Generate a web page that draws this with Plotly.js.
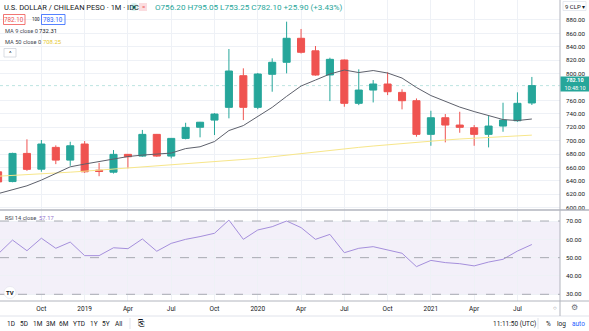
<!DOCTYPE html>
<html>
<head>
<meta charset="utf-8">
<script src="https://cdn.plot.ly/plotly-3.0.1.min.js"></script>
<style>html,body{margin:0;padding:0;background:#fff;}#chart{width:589px;height:331px;}</style>
</head>
<body>
<div id="chart"></div>
<script>
// ---- data (monthly, Jul 2018 .. Aug 2021) ----
const months = ['2018-07','2018-08','2018-09','2018-10','2018-11','2018-12','2019-01','2019-02','2019-03','2019-04','2019-05','2019-06','2019-07','2019-08','2019-09','2019-10','2019-11','2019-12','2020-01','2020-02','2020-03','2020-04','2020-05','2020-06','2020-07','2020-08','2020-09','2020-10','2020-11','2020-12','2021-01','2021-02','2021-03','2021-04','2021-05','2021-06','2021-07','2021-08'];
const openV  = [653.5,639,681,657.5,690,671,695,656,653,679.6,677,709.4,677,703.4,720,730.7,749.7,796.9,749.7,799,816.9,852.7,834,798,820.3,755.7,775.5,784.5,772,759.6,709.4,734.2,723.3,719.3,709.4,721.8,729.7,756.2];
const highV  = [662,682,702,701,693,698.4,699.4,667,686,680,716,710,704,726.7,728,741,836.7,807.9,801,822.8,877.5,866.6,841.2,823.7,821,806.4,790.4,802,776.6,763,744.6,739.7,743.1,723.3,736.7,756.6,772.1,795.05];
const lowV   = [633,638,655,653.6,665,662.5,652,647,651,658.7,676,676,673.6,702,705,708.4,733.3,730.7,747,773,800.4,830,797,759,750.6,753,757,768,746.7,705.9,692.4,697.5,711.8,692.4,690,713.3,728.2,753.25];
const closeV = [638.5,681,657.2,695,671,692.4,653.6,654,679.6,676,709.4,677,703.4,719.8,727.5,739.7,803.9,749.7,799.4,816.9,852.7,831.8,797.9,821.3,755.7,775.5,784.5,773,759.6,709.4,734.2,723.3,719.9,709.4,721.8,730.7,755.7,782.1];
const ma9  = [621,626.3,632.7,641.2,651.6,661,665.1,668.5,672.5,676.3,678.5,680,681.5,688.2,690.9,698.7,715.1,722.5,736.7,749.7,766.1,781.5,790.4,799.4,805.4,801.6,804.6,800.9,793.4,779.3,767.3,758.4,750.1,743.4,737.5,731.5,730,732.31];
const ma50 = [647,648,649.5,650.5,651.8,653,654.5,656,657.5,659.2,661,662.8,664,665.5,666.5,668.5,670.5,672,673.6,676,678.5,680.5,683,685.5,688,690,692,694,696,697.8,699.5,701,702.5,703.8,705,706.2,707.2,708.25];
const rsi  = [52.0,59.6,53.8,60.6,55.1,58.5,51.1,51.1,55.4,54.9,60.2,53.5,57.8,60,61.5,63.3,70.5,60,65.1,66.9,70,66.4,60,62.7,52.7,55.1,56,54.2,52.4,45.1,48.5,47.3,46.7,45.5,47.6,49.1,53.6,57.17];
const tickMonths = ['2018-10','2019-01','2019-04','2019-07','2019-10','2020-01','2020-04','2020-07','2020-10','2021-01','2021-04','2021-07'];
const tickLabels = ['Oct','2019','Apr','Jul','Oct','2020','Apr','Jul','Oct','2021','Apr','Jul'];
const priceTicks = [600,620,640,660,680,700,720,740,760,800,820,840,860,880];
const rsiTicks = [30,40,50,60,70];
const rsiBands = [30,50,70];
const changeText = '+25.90 (+3.43%)';
const countdown = '10:48:10';

// ---- layout helpers ----
const W = 589, H = 331, PW = 560, PH = 301;
const px = x => x / PW;
const py = y => 1 - y / PH;
const xs = months.map((m, i) => i);
const last = xs.length - 1;
const FONT = 'Roboto, "Liberation Sans", sans-serif';
const GREEN = '#26a69a', RED = '#ef5350';

const traces = [
  {type:'candlestick', x: xs, open: openV, high: highV, low: lowV, close: closeV,
   xaxis:'x', yaxis:'y', hoverinfo:'skip', whiskerwidth:0,
   increasing:{line:{color:GREEN, width:1}, fillcolor:GREEN},
   decreasing:{line:{color:RED, width:1}, fillcolor:RED}},
  {type:'scatter', mode:'lines', x: xs, y: ma50, xaxis:'x', yaxis:'y', line:{color:'#f7e68a', width:1}, hoverinfo:'skip'},
  {type:'scatter', mode:'lines', x: xs, y: ma9, xaxis:'x', yaxis:'y', line:{color:'#5d606b', width:1}, hoverinfo:'skip'},
  {type:'scatter', mode:'lines', x: xs, y: rsi, xaxis:'x', yaxis:'y2', line:{color:'#a58fdc', width:1}, hoverinfo:'skip'}
];

function ann(text, x, y, o) {
  return Object.assign({text, x: px(x), y: py(y), xref:'paper', yref:'paper', showarrow:false,
    xanchor:'left', yanchor:'middle', borderpad:0, font:{family:FONT, size:7, color:'#131722'}}, o || {});
}
function rectS(x0, y0, x1, y1, o) {
  return Object.assign({type:'rect', xref:'paper', yref:'paper', x0:px(x0), x1:px(x1), y0:py(y0), y1:py(y1), line:{width:0}}, o || {});
}
function lineS(x0, y0, x1, y1, color, w, dash) {
  return {type:'line', xref:'paper', yref:'paper', x0:px(x0), x1:px(x1), y0:py(y0), y1:py(y1), line:{color, width:w, dash: dash || 'solid'}};
}

const ohlcText = 'O' + openV[last].toFixed(2) + ' H' + highV[last].toFixed(2) + ' L' + lowV[last].toFixed(2) + ' C' + closeV[last].toFixed(2) + ' ' + changeText;

const annotations = [
  ann('U.S. DOLLAR / CHILEAN PESO · 1M · IDC', 3, 7, {font:{family:FONT, size:7.5, color:'#131722'}}),
  ann(ohlcText, 154, 7, {font:{family:FONT, size:8.1, color:GREEN}}),
  ann('=', 143, 6.5, {xanchor:'center', font:{family:FONT, size:6, color:RED}}),
  ann(closeV[last].toFixed(2), 14.2, 19.5, {xanchor:'center', font:{family:FONT, size:6.3, color:RED}}),
  ann('100', 31, 19.5, {font:{family:FONT, size:4.5, color:'#131722'}}),
  ann((closeV[last] + 1).toFixed(2), 53.3, 19.5, {xanchor:'center', font:{family:FONT, size:6.3, color:'#2962ff'}}),
  ann('MA 9 close 0', 3.5, 31.5, {font:{family:FONT, size:5.7, color:'#434651'}}),
  ann(ma9[last].toFixed(2), 38, 31.5, {font:{family:FONT, size:5.9, color:'#131722'}}),
  ann('MA 50 close 0', 3.5, 42, {font:{family:FONT, size:5.7, color:'#434651'}}),
  ann(ma50[last].toFixed(2), 41.5, 42, {font:{family:FONT, size:5.9, color:'#e6c82e'}}),
  ann('^', 10, 53, {xanchor:'center', font:{family:FONT, size:6, color:'#131722'}}),
  ann('RSI 14 close', 3.5, 217.5, {font:{family:FONT, size:5.7, color:'#434651'}}),
  ann(rsi[last].toFixed(2), 37.5, 217.5, {font:{family:FONT, size:5.9, color:'#9575cd'}}),
  ann('<b>TV</b>', 10, 292.5, {xanchor:'center', font:{family:FONT, size:6, color:'#131722'}}),
  ann('9 CLP ▾', 574.5, 6, {xanchor:'center', font:{family:FONT, size:6, color:'#131722'}}),
  ann('<b>' + closeV[last].toFixed(2) + '</b><br>' + countdown, 574.5, 83.5, {xanchor:'center', bgcolor:GREEN, width:28, height:14, font:{family:FONT, size:5.5, color:'#ffffff'}}),
  ann('○', 555, 307.5, {xanchor:'center', font:{family:FONT, size:6, color:'#6a6d78'}}),
  ann('⚙', 574, 307.5, {xanchor:'center', font:{family:FONT, size:8, color:'#6a6d78'}}),
];
const tb = [['1D',6],['5D',19],['1M',32],['3M',45],['6M',58],['YTD',72],['1Y',89],['5Y',101],['All',114]];
tb.forEach(t => annotations.push(ann(t[0], t[1], 323.5, {font:{family:FONT, size:6.5, color:'#131722'}})));
annotations.push(ann('⎘', 137, 323.5, {font:{family:FONT, size:8, color:'#131722'}}));
annotations.push(ann('11:11:50 (UTC)', 492, 323.5, {font:{family:FONT, size:6.5, color:'#131722'}}));
annotations.push(ann('%', 545, 323.5, {font:{family:FONT, size:6.5, color:'#131722'}}));
annotations.push(ann('log', 556, 323.5, {font:{family:FONT, size:6.5, color:'#131722'}}));
annotations.push(ann('auto', 571, 323.5, {font:{family:FONT, size:6.5, color:'#2962ff'}}));

const shapes = [
  {type:'rect', xref:'paper', yref:'y2', x0:0, x1:1, y0:rsiBands[0], y1:rsiBands[2], fillcolor:'rgba(126,87,194,0.09)', line:{width:0}, layer:'below'},
  ...rsiBands.map(v => ({type:'line', xref:'paper', yref:'y2', x0:0, x1:1, y0:v, y1:v, line:{color:'#9598a1', width:0.8, dash:'dash'}})),
  {type:'line', xref:'paper', yref:'y', x0:0, x1:1, y0:closeV[last], y1:closeV[last], line:{color:'rgba(38,166,154,0.3)', width:1, dash:'dot'}, layer:'below'},
  lineS(0, 210, W, 210, '#b2b5be', 1.4),
  lineS(0, 301, W, 301, '#b2b5be', 1),
  lineS(0, 316, W, 316, '#e0e3eb', 1),
  lineS(560, 0, 560, 316, '#b2b5be', 1),
  lineS(130, 318, 130, 329, '#e0e3eb', 1),
  lineS(538, 318, 538, 329, '#e0e3eb', 1),
  {type:'circle', xref:'paper', yref:'paper', x0:px(130), x1:px(138), y0:py(3), y1:py(11), fillcolor:'#d9f2ef', line:{width:0}},
  {type:'circle', xref:'paper', yref:'paper', x0:px(132.5), x1:px(135.5), y0:py(5.5), y1:py(8.5), fillcolor:GREEN, line:{width:0}},
  rectS(139, 3, 147, 11, {fillcolor:'#fbdde0'}),
  rectS(3.5, 14.5, 25, 24.5, {line:{color:RED, width:0.8}}),
  rectS(41.5, 14.5, 65, 24.5, {line:{color:'#2962ff', width:0.8}}),
  rectS(4, 48.5, 16, 57, {line:{color:'#d1d4dc', width:0.8}}),
  rectS(563, 1.5, 586, 10.5, {line:{color:'#e0e3eb', width:0.8}}),
  {type:'circle', xref:'paper', yref:'paper', x0:px(4), x1:px(16), y0:py(286.5), y1:py(298.5), fillcolor:'#ffffff', line:{color:'#e0e3eb', width:0.6}},
];

const layout = {
  width: W, height: H,
  margin: {l:0, r:29, t:0, b:30, pad:0},
  paper_bgcolor:'#ffffff', plot_bgcolor:'#ffffff',
  showlegend:false,
  font:{family:FONT, size:7, color:'#131722'},
  xaxis: {
    anchor:'y2', range:[0.132, 38.95], rangeslider:{visible:false},
    tickmode:'array', tickvals: tickMonths.map(m => months.indexOf(m)), ticktext: tickLabels,
    showgrid:true, gridcolor:'#eef1f6', gridwidth:1, zeroline:false, showline:false,
    ticks:'', ticklabelstandoff:2, tickfont:{family:FONT, size:6.5, color:'#131722'}
  },
  yaxis: {
    domain:[91/301, 1], range:[596.6, 909.8], side:'right', anchor:'x',
    tickmode:'array', tickvals: priceTicks, ticktext: priceTicks.map(v => v.toFixed(2)),
    showgrid:true, gridcolor:'#eef1f6', zeroline:false, showline:false,
    ticks:'', ticklabelstandoff:5, tickfont:{family:FONT, size:6.2, color:'#131722'}
  },
  yaxis2: {
    domain:[0, 91/301], range:[26.35, 76], side:'right', anchor:'x',
    tickmode:'array', tickvals: rsiTicks, ticktext: rsiTicks.map(v => v.toFixed(2)),
    showgrid:true, gridcolor:'#eef1f6', zeroline:false, showline:false,
    ticks:'', ticklabelstandoff:5, tickfont:{family:FONT, size:6.2, color:'#131722'}
  },
  shapes, annotations
};

Plotly.newPlot('chart', traces, layout, {displayModeBar:false, staticPlot:true});
</script>
</body>
</html>
